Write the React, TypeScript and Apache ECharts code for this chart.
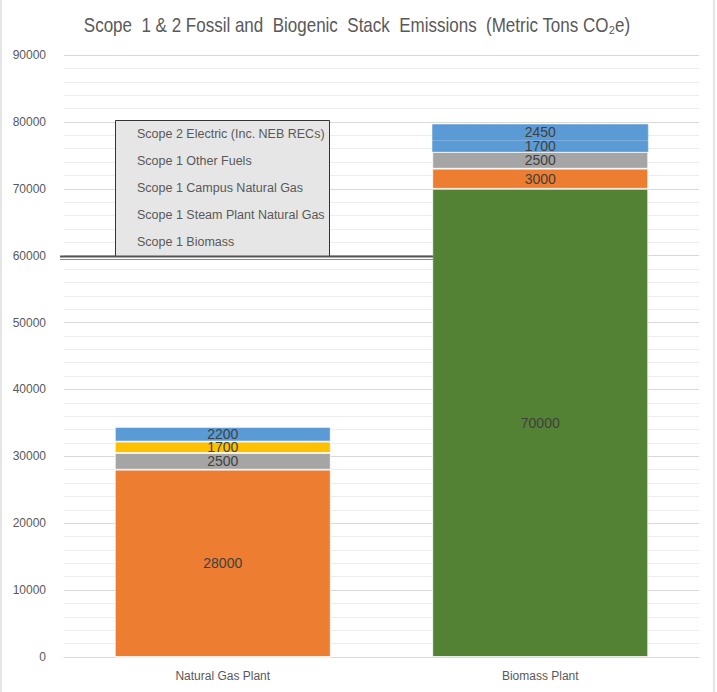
import React, { useEffect, useRef } from "react";
import * as echarts from "echarts";

const categories = ["Natural Gas Plant", "Biomass Plant"];
const biomass = [0, 70000];
const steamPlantGas = [28000, 3000];
const campusGas = [2500, 2500];
const otherFuels = [1700, 1700];
const electric = [2200, 2450];

const seriesNames = [
  "Scope 1 Biomass",
  "Scope 1 Steam Plant Natural Gas",
  "Scope 1 Campus Natural Gas",
  "Scope 1 Other Fuels",
  "Scope 2 Electric (Inc. NEB RECs)",
];
const legendOrder = [
  "Scope 2 Electric (Inc. NEB RECs)",
  "Scope 1 Other Fuels",
  "Scope 1 Campus Natural Gas",
  "Scope 1 Steam Plant Natural Gas",
  "Scope 1 Biomass",
];
const colors = ["#548235", "#ED7D31", "#A5A5A5", "#FFC000", "#5B9BD5"];
const title = "Scope  1 & 2 Fossil and  Biogenic  Stack  Emissions  (Metric Tons CO\u2082e)";

const SANS = "'Liberation Sans', Arial, sans-serif";

export default function App() {
  const ref = useRef<HTMLDivElement>(null);
  useEffect(() => {
    if (!ref.current) return;
    const chart = echarts.init(ref.current, undefined, { renderer: "svg" });
    const values = [biomass, steamPlantGas, campusGas, otherFuels, electric];
    const series = values.map((arr, i) => ({
      name: seriesNames[i],
      type: "bar",
      stack: "total",
      barWidth: "68%",
      data: arr.map((v, j) => {
        // In the reference, the biomass plant's top two segments are both drawn blue, with no seam
        if ((i === 3 || i === 4) && j === 1)
          return { value: v, itemStyle: { color: colors[4], borderColor: colors[4] } };
        return v;
      }),
      itemStyle: { color: colors[i], borderColor: "#ffffff", borderWidth: 0.8 },
      label: {
        show: true,
        position: "inside",
        color: "#404040",
        fontSize: 14,
        lineHeight: 11,
        fontFamily: SANS,
        formatter: (p: any) => (p.value ? String(p.value) : ""),
      },
      emphasis: { disabled: true },
    }));
    chart.setOption({
      animation: false,
      backgroundColor: "#ffffff",
      grid: { left: 64, right: 18, top: 55, bottom: 35, containLabel: false },
      legend: {
        data: legendOrder,
        orient: "vertical",
        left: 132,
        top: 127,
        itemWidth: 0,
        itemHeight: 14,
        itemGap: 13,
        padding: 0,
        selectedMode: false,
        icon: "rect",
        itemStyle: { color: "rgba(0,0,0,0)", borderWidth: 0 },
        textStyle: { color: "#595959", fontSize: 12.5, fontFamily: SANS },
        z: 10,
      },
      xAxis: {
        type: "category",
        data: categories,
        axisLine: { lineStyle: { color: "#d9d9d9" } },
        axisTick: { show: false },
        axisLabel: { color: "#595959", fontSize: 12, fontFamily: SANS, margin: 13 },
      },
      yAxis: {
        type: "value",
        min: 0,
        max: 90000,
        interval: 10000,
        axisLine: { show: false },
        axisTick: { show: false },
        axisLabel: {
          color: "#595959",
          fontSize: 12,
          fontFamily: SANS,
          margin: 18,
          formatter: (v: number) => String(v),
        },
        splitLine: { lineStyle: { color: "#d9d9d9", width: 1 } },
        minorTick: { show: false, splitNumber: 5 },
        minorSplitLine: { show: true, lineStyle: { color: "#ededed", width: 1 } },
      },
      graphic: [
        {
          type: "text",
          x: 357,
          y: 25,
          scaleX: 0.85,
          style: {
            text: title,
            fill: "#595959",
            fontSize: 20,
            fontFamily: SANS,
            textAlign: "center",
            textVerticalAlign: "middle",
          },
          z: 10,
        },
        {
          type: "rect",
          shape: { x: 115.5, y: 120.5, width: 214, height: 136 },
          style: { fill: "#e6e6e6", stroke: "#333333", lineWidth: 1 },
          z: 5,
        },
        {
          type: "line",
          shape: { x1: 60, y1: 256.5, x2: 433, y2: 256.5 },
          style: { stroke: "#555555", lineWidth: 2 },
          z: 6,
        },
        {
          type: "line",
          shape: { x1: 60, y1: 259.5, x2: 433, y2: 259.5 },
          style: { stroke: "#888888", lineWidth: 1 },
          z: 6,
        },
        {
          type: "rect",
          shape: { x: 0, y: 0, width: 2, height: 692 },
          style: { fill: "#e5e5e5" },
          z: 6,
        },
        {
          type: "rect",
          shape: { x: 713, y: 0, width: 2, height: 692 },
          style: { fill: "#e5e5e5" },
          z: 6,
        },
      ],
      series,
    });
    return () => chart.dispose();
  }, []);
  return (
    <div
      ref={ref}
      style={{ position: "fixed", left: 0, top: 0, width: 717, height: 692, background: "#fff" }}
    />
  );
}
